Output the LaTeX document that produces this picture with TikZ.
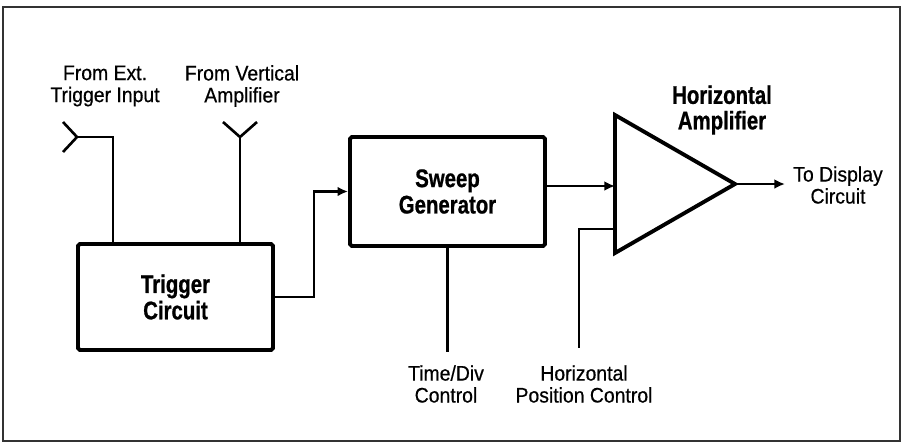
\documentclass[tikz,border=0pt]{standalone}
\usepackage{fontspec}
\setmainfont{Liberation Sans}[FakeStretch=0.92,FakeBold=0.5]
\newfontfamily\blockfont{Liberation Sans}[FakeStretch=0.8,FakeBold=0.8]
\usetikzlibrary{arrows.meta}

\tikzset{
  block/.style={draw,line width=2.2pt,rounded corners=1pt,align=center,
    font=\blockfont\bfseries\fontsize{14.5}{15}\selectfont},
  boldlbl/.style={align=center,font=\blockfont\bfseries\fontsize{14.5}{14.5}\selectfont},
  lbl/.style={align=center,font=\fontsize{12}{12.5}\selectfont},
  wire/.style={line width=1.5pt},
  arrowtip/.style={-{Latex[length=6pt,width=5.5pt]}},
}

\begin{document}
\begin{tikzpicture}[x=0.02cm,y=-0.02cm]
  \useasboundingbox (0,0) rectangle (902,444);
  \draw[line width=0.8pt,black!80] (3,7) rectangle (900,441);

  \node[block,minimum width=3.9cm,minimum height=2.12cm] (trigger) at (175.5,297) {Trigger\\Circuit};
  \node[block,minimum width=3.9cm,minimum height=2.18cm] (sweep) at (447.5,191.5) {Sweep\\Generator};

  % amplifier triangle
  \coordinate (amptop) at (615,115);
  \coordinate (ampbot) at (615,253);
  \coordinate (amptip) at (735,184);
  \coordinate (ampin) at (615,186);
  \coordinate (posin) at (615,229);
  \draw[line width=2.2pt,line join=miter] (amptop) -- (amptip) -- (ampbot) -- cycle;

  \node[boldlbl] (amplbl) at (722,110) {Horizontal\\Amplifier};
  \node[lbl] (extlbl) at (105,86) {From Ext.\\Trigger Input};
  \node[lbl] (vertlbl) at (242,86) {From Vertical\\Amplifier};
  \node[lbl] (timelbl) at (446,384) {Time/Div\\Control};
  \node[lbl] (hposlbl) at (584,384) {Horizontal\\Position Control};
  \node[lbl] (displbl) at (838,185) {To Display\\Circuit};

  % inputs
  \coordinate (extin) at (77,137);
  \coordinate (extcorner) at (113,137);
  \coordinate (vertin) at (240,137);
  \draw[wire] (63,122) -- (extin) -- (63,152);
  \draw[wire] (extin) -- (extcorner) -- (extcorner |- trigger.north);
  \draw[wire] (223,122) -- (vertin) -- (257,122);
  \draw[wire] (vertin) -- (vertin |- trigger.north);

  % signal path
  \draw[wire,arrowtip] (trigger.east) -- ++(39,0) |- (sweep.west);
  \draw[wire,arrowtip] (sweep.east |- ampin) -- (ampin);
  \coordinate (dispend) at (785,184);
  \draw[wire,arrowtip] (amptip) -- (dispend);

  % controls
  \coordinate (timeend) at (447,352);
  \draw[wire] (sweep.south) -- (sweep.south |- timeend);
  \coordinate (posend) at (579,348);
  \draw[wire] (posin) -| (posend);
\end{tikzpicture}
\end{document}
